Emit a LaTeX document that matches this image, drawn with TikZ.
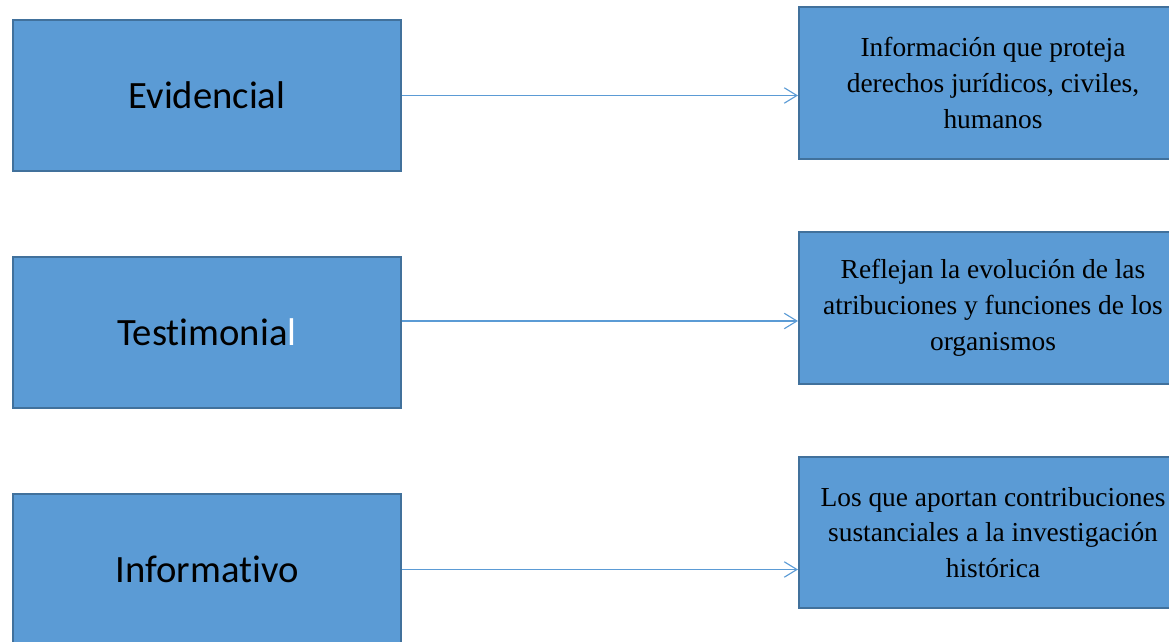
\documentclass[tikz,border=0pt]{standalone}
\usepackage{fontspec}
\setmainfont{Liberation Serif}
\newfontfamily\calibfont[Ligatures=NoCommon]{Carlito}
\usepackage{xcolor}
\usetikzlibrary{arrows.meta, positioning}

\definecolor{boxfill}{HTML}{5B9BD5}
\definecolor{boxline}{HTML}{41719C}

\begin{document}
\begin{tikzpicture}[
    x=0.025cm, y=-0.025cm,
    box/.style={rectangle, draw=boxline, line width=1.4pt, fill=boxfill, inner sep=0pt, minimum width=9.7cm, minimum height=3.775cm, align=center},
    typebox/.style={box, font=\calibfont\fontsize{27.5}{33}\selectfont},
    descbox/.style={box, font=\fontsize{19.5}{25.5}\selectfont},
    link/.style={draw=boxfill, line width=0.8pt, -{Straight Barb[length=9pt, width=11pt, line width=0.8pt]}}
]
    \useasboundingbox (0,0) rectangle (1169,642);
    \clip (0,0) rectangle (1169,642);

    % Document types
    \node[typebox] (evid) at (207,95.5) {Evidencial};
    \node[typebox] (testim) at (207,332.5) {Testimonia{\color{white}l}};
    \node[typebox] (inform) at (207,569.5) {Informativo};

    % Descriptions
    \node[descbox] (evidtxt) at (993,83) {Información que proteja\\derechos jurídicos, civiles,\\humanos};
    \node[descbox] (testimtxt) at (993,308) {Reflejan la evolución de las\\atribuciones y funciones de los\\organismos};
    \node[descbox] (informtxt) at (993,532.5) {Los que aportan contribuciones\\sustanciales a la investigación\\histórica};

    % Arrows
    \draw[link] (evid.east) -- (evid.east -| evidtxt.west);
    \draw[link] ([yshift=0.2875cm]testim.east) -- ([yshift=0.2875cm]testim.east -| testimtxt.west);
    \draw[link] (inform.east) -- (inform.east -| informtxt.west);
\end{tikzpicture}
\end{document}
